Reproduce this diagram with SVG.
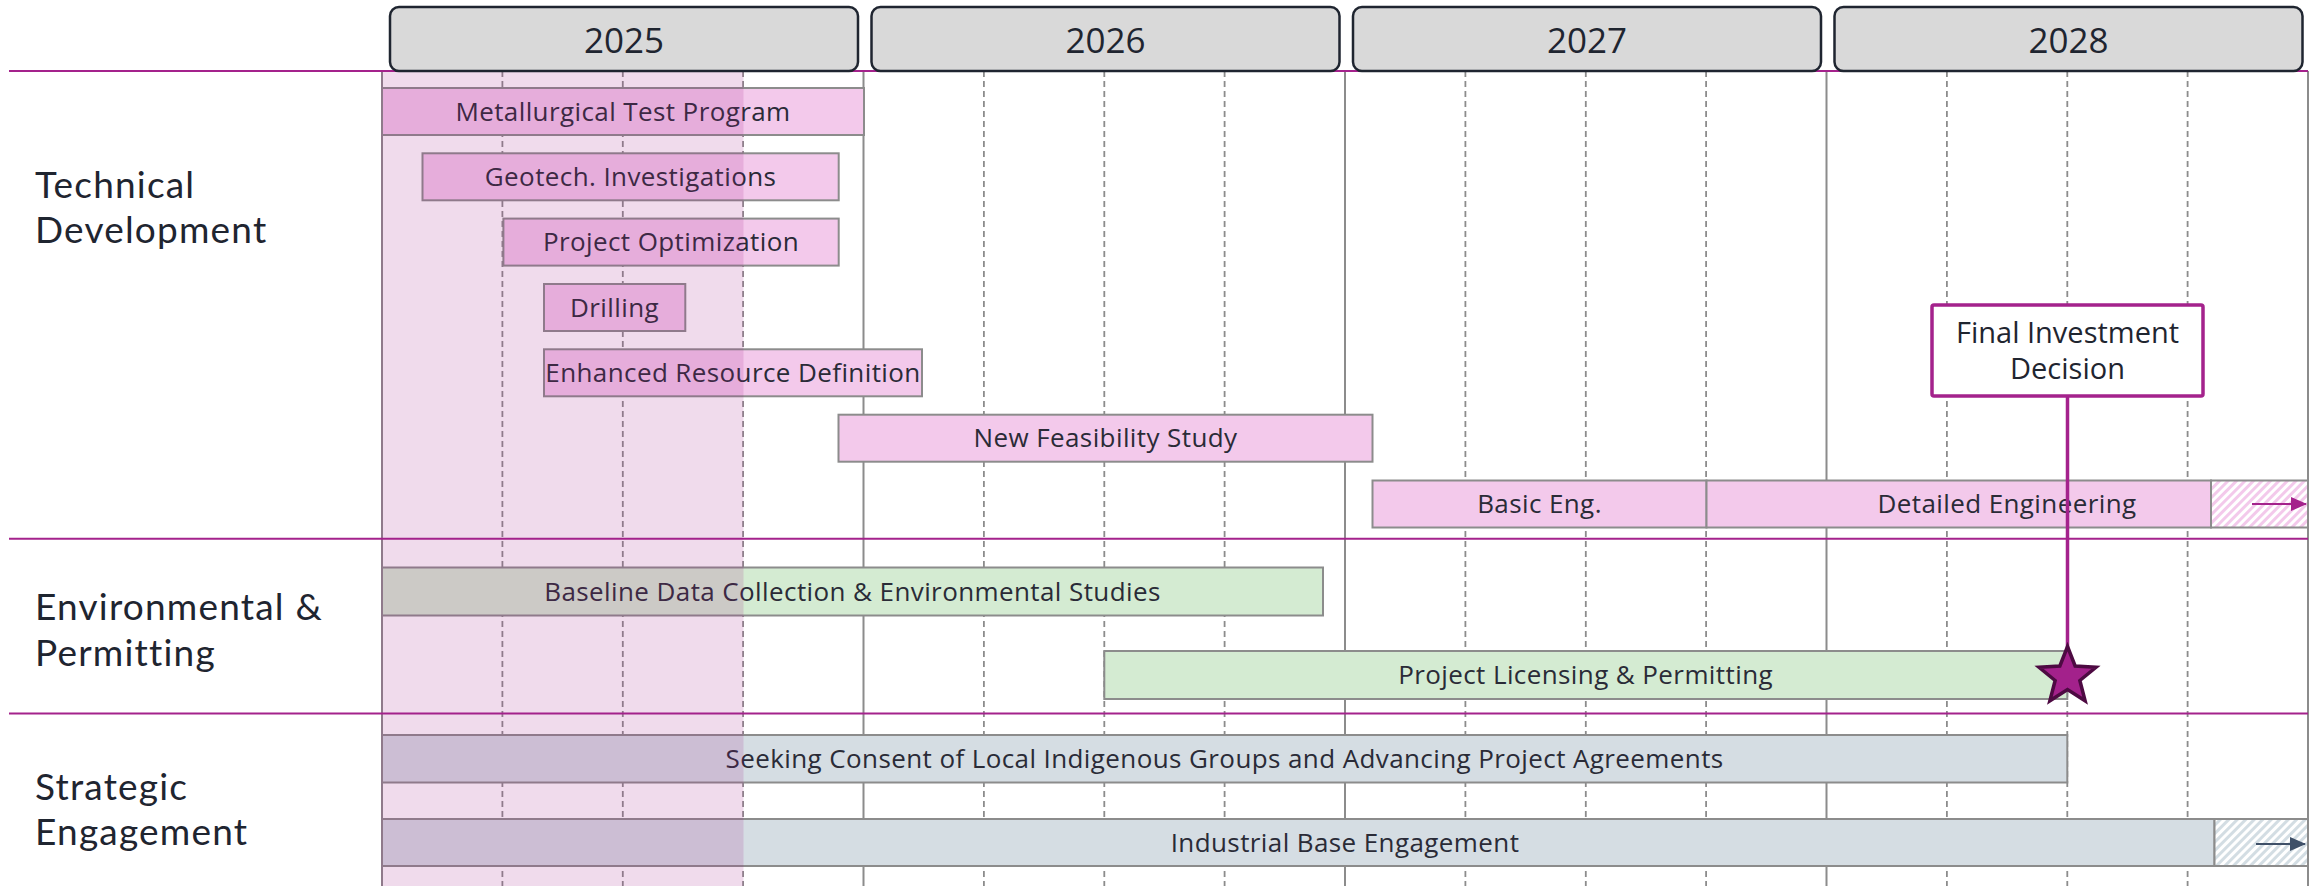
<svg xmlns="http://www.w3.org/2000/svg" width="2315" height="886" viewBox="0 0 2315 886">
<style>
  .lbl { font-family: "Open Sans", "Liberation Sans", sans-serif; fill: #1f2530; }
  .sec { font-family: Lato, "Open Sans", "Liberation Sans", sans-serif; font-size: 37px; letter-spacing: 1.2px; fill: #1f2530; }
  .yr { font-size: 35px; text-anchor: middle; }
  .fid { font-size: 29px; text-anchor: middle; }
  .bt { font-family: "Open Sans", "Liberation Sans", sans-serif; font-size: 26px; letter-spacing: 0.4px; fill: #2a2b37; text-anchor: middle; }
  .grid { stroke: #8c8c8c; stroke-width: 2; }
  .dash { stroke: #8c8c8c; stroke-width: 1.8; stroke-dasharray: 6 4; }
  .sline { stroke: #a4228c; stroke-width: 2; }
  .ybox { fill: #d9d9d9; stroke: #1f2530; stroke-width: 2.5; }
  .bar { stroke: #8c8c8c; stroke-width: 2; }
  .pink { fill: #f3c9eb; }
  .green { fill: #d4ebd2; }
  .slate { fill: #d5dde3; }
</style>
<defs>
  <pattern id="hatchPink" patternUnits="userSpaceOnUse" width="6" height="6" patternTransform="rotate(45)">
    <rect width="6" height="6" fill="#ffffff"/>
    <rect width="3" height="6" fill="#f3c9eb"/>
  </pattern>
  <pattern id="hatchSlate" patternUnits="userSpaceOnUse" width="6" height="6" patternTransform="rotate(45)">
    <rect width="6" height="6" fill="#ffffff"/>
    <rect width="3" height="6" fill="#d3dde3"/>
  </pattern>
  <marker id="arrMag" markerWidth="16" markerHeight="14" refX="15" refY="7" orient="auto" markerUnits="userSpaceOnUse">
    <polygon points="0,0 16,7 0,14" fill="#a4228c"/>
  </marker>
  <marker id="arrSlate" markerWidth="16" markerHeight="14" refX="15" refY="7" orient="auto" markerUnits="userSpaceOnUse">
    <polygon points="0,0 16,7 0,14" fill="#3f5068"/>
  </marker>
</defs>
<rect x="0" y="0" width="2315" height="886" fill="#ffffff"/>

<g id="grid">
  <line class="grid" x1="382" y1="71" x2="382" y2="886"/>
  <line class="grid" x1="863.5" y1="71" x2="863.5" y2="886"/>
  <line class="grid" x1="1345" y1="71" x2="1345" y2="886"/>
  <line class="grid" x1="1826.5" y1="71" x2="1826.5" y2="886"/>
  <line class="grid" x1="2308" y1="71" x2="2308" y2="886"/>
  <line class="dash" x1="502.4" y1="71" x2="502.4" y2="886"/>
  <line class="dash" x1="622.8" y1="71" x2="622.8" y2="886"/>
  <line class="dash" x1="743.1" y1="71" x2="743.1" y2="886"/>
  <line class="dash" x1="983.9" y1="71" x2="983.9" y2="886"/>
  <line class="dash" x1="1104.3" y1="71" x2="1104.3" y2="886"/>
  <line class="dash" x1="1224.6" y1="71" x2="1224.6" y2="886"/>
  <line class="dash" x1="1465.4" y1="71" x2="1465.4" y2="886"/>
  <line class="dash" x1="1585.8" y1="71" x2="1585.8" y2="886"/>
  <line class="dash" x1="1706.1" y1="71" x2="1706.1" y2="886"/>
  <line class="dash" x1="1946.9" y1="71" x2="1946.9" y2="886"/>
  <line class="dash" x1="2067.3" y1="71" x2="2067.3" y2="886"/>
  <line class="dash" x1="2187.6" y1="71" x2="2187.6" y2="886"/>
</g>

<g id="section-lines">
  <line class="sline" x1="9" y1="71" x2="2308" y2="71"/>
  <line class="sline" x1="9" y1="538.7" x2="2308" y2="538.7"/>
  <line class="sline" x1="9" y1="713.5" x2="2308" y2="713.5"/>
</g>

<g id="section-labels">
  <g id="lbl-technical">
    <text class="sec" x="35" y="197.7">Technical</text>
    <text class="sec" x="35" y="242.7">Development</text>
  </g>
  <g id="lbl-environmental">
    <text class="sec" x="35" y="620">Environmental &amp;</text>
    <text class="sec" x="35" y="666">Permitting</text>
  </g>
  <g id="lbl-strategic">
    <text class="sec" x="35" y="800">Strategic</text>
    <text class="sec" x="35" y="845">Engagement</text>
  </g>
</g>

<g id="bars">
  <g id="bar-metallurgical">
    <rect class="bar pink" x="382" y="88" width="482" height="47"/>
    <text class="bt" x="623" y="120.5">Metallurgical Test Program</text>
  </g>
  <g id="bar-geotech">
    <rect class="bar pink" x="422.5" y="153.3" width="416.2" height="47"/>
    <text class="bt" x="630.6" y="185.8">Geotech. Investigations</text>
  </g>
  <g id="bar-optimization">
    <rect class="bar pink" x="503.4" y="218.6" width="335.3" height="47"/>
    <text class="bt" x="671" y="251.1">Project Optimization</text>
  </g>
  <g id="bar-drilling">
    <rect class="bar pink" x="544" y="284" width="141.3" height="47"/>
    <text class="bt" x="614.6" y="316.5">Drilling</text>
  </g>
  <g id="bar-enhanced">
    <rect class="bar pink" x="544" y="349.3" width="378" height="47"/>
    <text class="bt" x="733" y="381.8" letter-spacing="0.2">Enhanced Resource Definition</text>
  </g>
  <g id="bar-feasibility">
    <rect class="bar pink" x="838.5" y="414.7" width="534" height="47"/>
    <text class="bt" x="1105.5" y="447.2">New Feasibility Study</text>
  </g>
  <g id="bar-basic">
    <rect class="bar pink" x="1372.5" y="480.5" width="334" height="47"/>
    <text class="bt" x="1539.5" y="513">Basic Eng.</text>
  </g>
  <g id="bar-detailed">
    <rect class="bar pink" x="1706.5" y="480.5" width="504.5" height="47"/>
    <rect class="bar" fill="url(#hatchPink)" x="2211" y="480.5" width="97" height="47"/>
    <line x1="2252" y1="504" x2="2306" y2="504" stroke="#a4228c" stroke-width="2" marker-end="url(#arrMag)"/>
    <text class="bt" x="2007" y="513">Detailed Engineering</text>
  </g>
  <g id="bar-baseline">
    <rect class="bar green" x="382" y="567.5" width="941" height="48"/>
    <text class="bt" x="852.5" y="600.5">Baseline Data Collection &amp; Environmental Studies</text>
  </g>
  <g id="bar-licensing">
    <rect class="bar green" x="1104.3" y="651" width="963" height="48"/>
    <text class="bt" x="1585.6" y="684">Project Licensing &amp; Permitting</text>
  </g>
  <g id="bar-consent">
    <rect class="bar slate" x="382" y="735" width="1685.3" height="47.5"/>
    <text class="bt" x="1224.6" y="768">Seeking Consent of Local Indigenous Groups and Advancing Project Agreements</text>
  </g>
  <g id="bar-industrial">
    <rect class="bar slate" x="382" y="819" width="1832.5" height="47"/>
    <rect class="bar" fill="url(#hatchSlate)" x="2214.5" y="819" width="93.5" height="47"/>
    <line x1="2256" y1="844" x2="2305" y2="844" stroke="#3f5068" stroke-width="2" marker-end="url(#arrSlate)"/>
    <text class="bt" x="1345" y="851.5">Industrial Base Engagement</text>
  </g>
</g>

<g id="highlight-2025">
  <rect x="381" y="71" width="362.5" height="815" fill="#a3218b" fill-opacity="0.16"/>
</g>

<g id="year-headers">
  <g id="year-2025">
    <rect class="ybox" x="390" y="7" width="468" height="64" rx="9"/>
    <text class="lbl yr" x="624" y="53">2025</text>
  </g>
  <g id="year-2026">
    <rect class="ybox" x="871.5" y="7" width="468" height="64" rx="9"/>
    <text class="lbl yr" x="1105.5" y="53">2026</text>
  </g>
  <g id="year-2027">
    <rect class="ybox" x="1353" y="7" width="468" height="64" rx="9"/>
    <text class="lbl yr" x="1587" y="53">2027</text>
  </g>
  <g id="year-2028">
    <rect class="ybox" x="1834.5" y="7" width="468" height="64" rx="9"/>
    <text class="lbl yr" x="2068.5" y="53">2028</text>
  </g>
</g>

<g id="connectors">
  <line x1="2067.5" y1="396" x2="2067.5" y2="648" stroke="#a4228c" stroke-width="3.5"/>
</g>

<g id="fid-box">
  <rect x="1932" y="305" width="271" height="91" rx="2" fill="#ffffff" stroke="#a4228c" stroke-width="3.5"/>
  <text class="lbl fid" x="2067.5" y="343">Final Investment</text>
  <text class="lbl fid" x="2067.5" y="379">Decision</text>
</g>

<g id="fid-star">
  <polygon points="2067.5,646.5 2075.14,665.98 2096.03,667.23 2079.86,680.52 2085.13,700.77 2067.5,689.5 2049.87,700.77 2055.14,680.52 2038.97,667.23 2059.86,665.98" fill="#a3218b" stroke="#4d0a42" stroke-width="3.5"/>
</g>
</svg>
